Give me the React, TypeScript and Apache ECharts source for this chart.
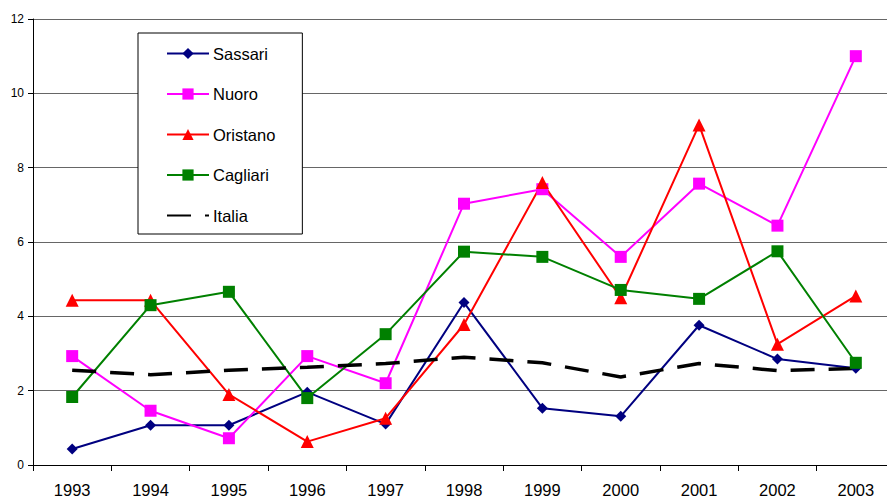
import React, { useEffect, useRef } from "react";
import * as echarts from "echarts";

const years = ["1993", "1994", "1995", "1996", "1997", "1998", "1999", "2000", "2001", "2002", "2003"];
const sassari = [0.43, 1.07, 1.07, 1.96, 1.1, 4.37, 1.53, 1.31, 3.76, 2.85, 2.6];
const nuoro = [2.93, 1.46, 0.72, 2.93, 2.2, 7.03, 7.42, 5.6, 7.57, 6.44, 11.0];
const oristano = [4.43, 4.43, 1.9, 0.63, 1.26, 3.78, 7.6, 4.5, 9.15, 3.25, 4.55];
const cagliari = [1.83, 4.3, 4.66, 1.8, 3.52, 5.74, 5.6, 4.71, 4.47, 5.75, 2.75];
const italia = [2.55, 2.43, 2.55, 2.63, 2.73, 2.9, 2.75, 2.37, 2.73, 2.54, 2.6];

const FONT = "'Liberation Sans', Arial, sans-serif";

export default function App() {
  const ref = useRef<HTMLDivElement>(null);
  useEffect(() => {
    if (!ref.current) return;
    const chart = echarts.init(ref.current, undefined, { renderer: "svg" });
    const mk = (name: string, data: number[], color: string, symbol: string, size: number) => ({
      name,
      type: "line",
      data,
      symbol,
      symbolSize: size,
      showSymbol: true,
      itemStyle: { color },
      lineStyle: { color, width: 2 },
    });
    chart.setOption({
      animation: false,
      backgroundColor: "#ffffff",
      textStyle: { fontFamily: FONT },
      grid: { left: 33, top: 19, width: 862, bottom: 32, containLabel: false },
      legend: {
        orient: "vertical",
        left: 138,
        top: 33,
        padding: [12, 27, 10, 28],
        backgroundColor: "#ffffff",
        borderColor: "#000000",
        borderWidth: 1,
        itemWidth: 42,
        itemHeight: 14,
        itemGap: 23.5,
        textStyle: { fontSize: 16.5, color: "#000", fontFamily: FONT, padding: [0, 0, 0, -1] },
        data: [
          "Sassari",
          "Nuoro",
          "Oristano",
          "Cagliari",
          { name: "Italia", itemStyle: { opacity: 0 } },
        ],
      },
      xAxis: {
        type: "category",
        data: years,
        boundaryGap: true,
        axisLine: { lineStyle: { color: "#000", width: 1 } },
        axisTick: { show: true, length: 6, lineStyle: { color: "#000" } },
        axisLabel: { fontSize: 16.5, color: "#000", margin: 16, fontFamily: FONT },
        splitLine: { show: false },
      },
      yAxis: {
        type: "value",
        min: 0,
        max: 12,
        interval: 2,
        axisLine: { show: true, lineStyle: { color: "#000", width: 1 } },
        axisTick: { show: true, length: 5, lineStyle: { color: "#000" } },
        axisLabel: { fontSize: 12, color: "#000", margin: 9, fontFamily: FONT },
        splitLine: { show: true, lineStyle: { color: "#666", width: 1 } },
      },
      series: [
        mk("Sassari", sassari, "#000080", "diamond", 11),
        mk("Nuoro", nuoro, "#ff00ff", "rect", 12),
        mk("Oristano", oristano, "#ff0000", "triangle", 13),
        mk("Cagliari", cagliari, "#008000", "rect", 12),
        {
          name: "Italia",
          type: "line",
          data: italia,
          symbol: "none",
          itemStyle: { color: "#000" },
          lineStyle: { color: "#000", width: 3.5, type: [24, 14] },
        },
      ],
    });
    return () => chart.dispose();
  }, []);
  return (
    <div
      ref={ref}
      style={{ position: "fixed", left: 0, top: 0, width: 900, height: 498, background: "#fff" }}
    />
  );
}
